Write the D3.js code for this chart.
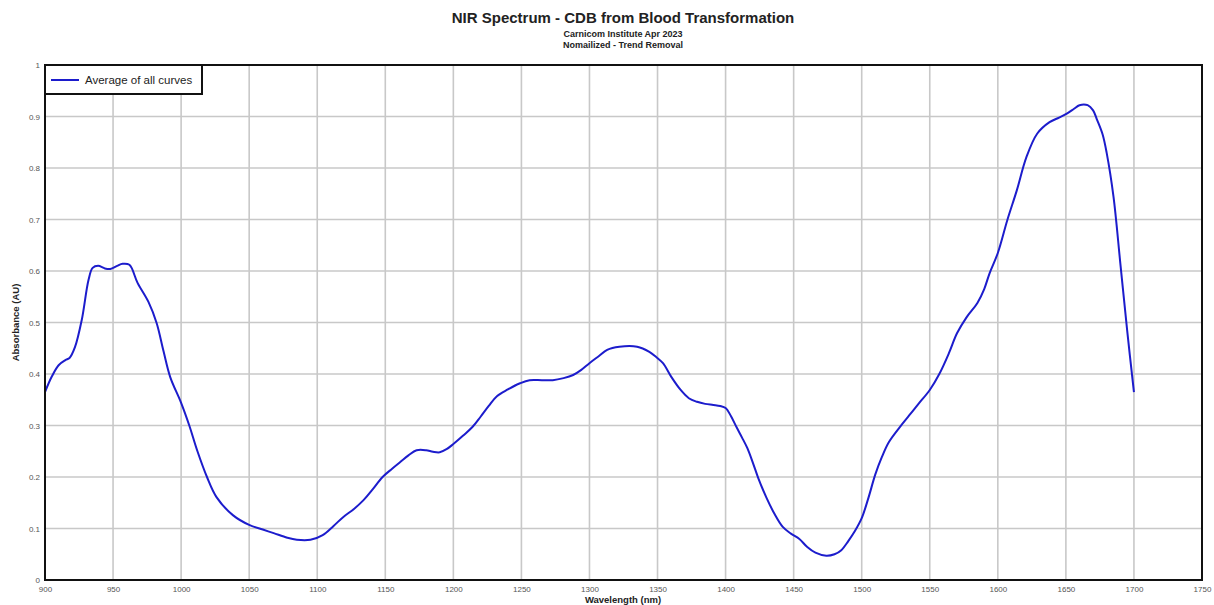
<!DOCTYPE html>
<html>
<head>
<meta charset="utf-8">
<script src="https://cdn.jsdelivr.net/npm/d3@7"></script>
<style>
  html, body { margin: 0; padding: 0; background: #fff; }
  svg { display: block; font-family: Arial, "Liberation Sans", sans-serif; }
</style>
</head>
<body>
<svg id="chart" width="1214" height="605"></svg>
<script>
// Average NIR absorbance spectrum, wavelength in nm
const wavelength = [
  900, 905, 910, 915, 918, 922, 927, 932, 935, 939, 944, 948, 953, 957, 962, 968,
  976, 982, 987, 992, 1000, 1006, 1012, 1019, 1026, 1038, 1050, 1060, 1068, 1078,
  1085, 1095, 1104, 1112, 1119, 1127, 1134, 1141, 1148, 1155, 1161, 1167, 1173,
  1180, 1185, 1190, 1195, 1200, 1207, 1214, 1220, 1226, 1232, 1240, 1249, 1256,
  1265, 1273, 1281, 1288, 1294, 1300, 1307, 1313, 1322, 1335, 1344, 1349, 1354,
  1360, 1367, 1373, 1379, 1385, 1391, 1396, 1400, 1404, 1408, 1412, 1416, 1420,
  1424, 1430, 1436, 1442, 1448, 1454, 1460, 1466, 1474, 1480, 1485, 1490, 1495,
  1500, 1505, 1510, 1515, 1520, 1528, 1535, 1542, 1550, 1557, 1564, 1570, 1577,
  1585, 1590, 1594, 1600, 1607, 1614, 1621, 1629, 1638, 1645, 1651, 1656, 1660,
  1666, 1670, 1673, 1677, 1680, 1685, 1690, 1695, 1700
];
const absorbance = [
  0.365, 0.395, 0.417, 0.427, 0.431, 0.452, 0.505, 0.583, 0.606, 0.610, 0.605, 0.604, 0.610, 0.614, 0.612, 0.577,
  0.540, 0.499, 0.445, 0.394, 0.344, 0.300, 0.250, 0.200, 0.161, 0.126, 0.107, 0.098, 0.091, 0.082,
  0.078, 0.078, 0.087, 0.105, 0.122, 0.138, 0.155, 0.177, 0.200, 0.216, 0.229, 0.242, 0.252,
  0.252, 0.249, 0.248, 0.254, 0.264, 0.280, 0.297, 0.317, 0.338, 0.357, 0.370, 0.382, 0.388,
  0.388, 0.388, 0.392, 0.398, 0.408, 0.421, 0.435, 0.447, 0.453, 0.453, 0.443, 0.433, 0.421,
  0.395, 0.369, 0.353, 0.346, 0.342, 0.340, 0.338, 0.334, 0.318, 0.297, 0.277, 0.256, 0.228,
  0.198, 0.160, 0.128, 0.103, 0.090, 0.080, 0.064, 0.053, 0.047, 0.050, 0.058, 0.075, 0.095,
  0.120, 0.160, 0.205, 0.240, 0.268, 0.297, 0.320, 0.343, 0.369, 0.400, 0.440, 0.479, 0.510,
  0.538, 0.565, 0.596, 0.635, 0.699, 0.757, 0.821, 0.867, 0.889, 0.898, 0.906, 0.915, 0.922,
  0.922, 0.912, 0.893, 0.865, 0.829, 0.744, 0.615, 0.485, 0.365
];
const xTicks = [900, 950, 1000, 1050, 1100, 1150, 1200, 1250, 1300, 1350, 1400, 1450, 1500, 1550, 1600, 1650, 1700, 1750];
const yTicks = [0, 0.1, 0.2, 0.3, 0.4, 0.5, 0.6, 0.7, 0.8, 0.9, 1];
const seriesName = "Average of all curves";

const svg = d3.select("#chart");
const plot = { left: 45, right: 1202, top: 65, bottom: 580 };

const x = d3.scaleLinear().domain([900, 1750]).range([plot.left, plot.right]);
const y = d3.scaleLinear().domain([0, 1]).range([plot.bottom, plot.top]);

// Titles
svg.append("text").attr("x", 623).attr("y", 23).attr("text-anchor", "middle")
  .attr("font-size", 15).attr("font-weight", "bold").attr("fill", "#222")
  .text("NIR Spectrum - CDB from Blood Transformation");
svg.append("text").attr("x", 623).attr("y", 37).attr("text-anchor", "middle")
  .attr("font-size", 9).attr("font-weight", "bold").attr("fill", "#222")
  .text("Carnicom Institute Apr 2023");
svg.append("text").attr("x", 623).attr("y", 48).attr("text-anchor", "middle")
  .attr("font-size", 9).attr("font-weight", "bold").attr("fill", "#222")
  .text("Nomailized - Trend Removal");

// Grid
const grid = svg.append("g").attr("stroke", "#c8c8c8").attr("stroke-width", 1.6);
grid.selectAll("line.v").data(xTicks.slice(1, -1)).join("line")
  .attr("x1", d => x(d)).attr("x2", d => x(d))
  .attr("y1", plot.top).attr("y2", plot.bottom);
grid.selectAll("line.h").data(yTicks.slice(1, -1)).join("line")
  .attr("x1", plot.left).attr("x2", plot.right)
  .attr("y1", d => y(d)).attr("y2", d => y(d));

// Axes (labels only, the frame is drawn separately)
const xAxis = svg.append("g").attr("transform", `translate(0,${plot.bottom})`)
  .call(d3.axisBottom(x).tickValues(xTicks).tickSize(0).tickPadding(6).tickFormat(d3.format("d")));
xAxis.select(".domain").remove();
xAxis.selectAll("text").attr("font-size", 8).attr("fill", "#555").attr("font-family", "Arial, 'Liberation Sans', sans-serif");

const yAxis = svg.append("g").attr("transform", `translate(${plot.left},0)`)
  .call(d3.axisLeft(y).tickValues(yTicks).tickSize(0).tickPadding(5).tickFormat(d => d3.format("")(+d.toFixed(1))));
yAxis.select(".domain").remove();
yAxis.selectAll("text").attr("font-size", 8).attr("fill", "#555").attr("font-family", "Arial, 'Liberation Sans', sans-serif");

// Axis titles
svg.append("text").attr("x", 623).attr("y", 603).attr("text-anchor", "middle")
  .attr("font-size", 9.5).attr("font-weight", "bold").attr("fill", "#222")
  .text("Wavelength (nm)");
svg.append("text").attr("transform", `translate(19,${(plot.top + plot.bottom) / 2}) rotate(-90)`)
  .attr("text-anchor", "middle").attr("font-size", 9.5).attr("font-weight", "bold").attr("fill", "#222")
  .text("Absorbance (AU)");

// Spectrum line
const points = wavelength.map((w, i) => [w, absorbance[i]]);
const line = d3.line().x(d => x(d[0])).y(d => y(d[1])).curve(d3.curveCatmullRom.alpha(0.5));
svg.append("path").datum(points).attr("d", line)
  .attr("fill", "none").attr("stroke", "#1c1ccc").attr("stroke-width", 2)
  .attr("stroke-linejoin", "round");

// Plot frame
svg.append("rect").attr("x", plot.left).attr("y", plot.top)
  .attr("width", plot.right - plot.left).attr("height", plot.bottom - plot.top)
  .attr("fill", "none").attr("stroke", "#111").attr("stroke-width", 2);

// Legend
const lg = svg.append("g");
lg.append("rect").attr("x", plot.left).attr("y", plot.top).attr("width", 157).attr("height", 29)
  .attr("fill", "#fff").attr("stroke", "#111").attr("stroke-width", 2);
lg.append("line").attr("x1", 51).attr("x2", 79).attr("y1", 80).attr("y2", 80)
  .attr("stroke", "#1c1ccc").attr("stroke-width", 2);
lg.append("text").attr("x", 85).attr("y", 84).attr("font-size", 11.5).attr("fill", "#222")
  .text(seriesName);
</script>
</body>
</html>
